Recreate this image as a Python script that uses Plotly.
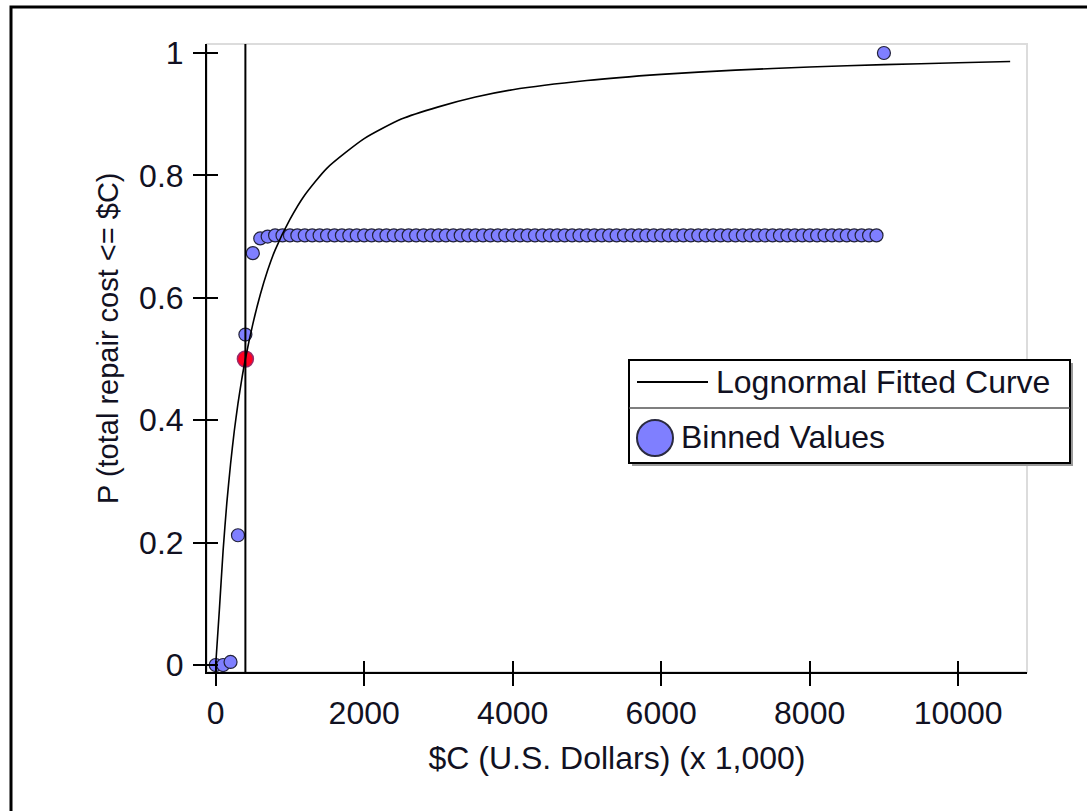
import plotly.graph_objects as go

# ---------------- data ----------------
cost_bins = [
    0, 100, 200, 300, 400, 500, 600, 700, 800, 900,
    1000, 1100, 1200, 1300, 1400, 1500, 1600, 1700, 1800, 1900,
    2000, 2100, 2200, 2300, 2400, 2500, 2600, 2700, 2800, 2900,
    3000, 3100, 3200, 3300, 3400, 3500, 3600, 3700, 3800, 3900,
    4000, 4100, 4200, 4300, 4400, 4500, 4600, 4700, 4800, 4900,
    5000, 5100, 5200, 5300, 5400, 5500, 5600, 5700, 5800, 5900,
    6000, 6100, 6200, 6300, 6400, 6500, 6600, 6700, 6800, 6900,
    7000, 7100, 7200, 7300, 7400, 7500, 7600, 7700, 7800, 7900,
    8000, 8100, 8200, 8300, 8400, 8500, 8600, 8700, 8800, 8900,
    9000,
]
binned_prob = [
    0.0, 0.0, 0.005, 0.212, 0.540, 0.673, 0.697, 0.700, 0.702, 0.702,
    0.702, 0.702, 0.702, 0.702, 0.702, 0.702, 0.702, 0.702, 0.702, 0.702,
    0.702, 0.702, 0.702, 0.702, 0.702, 0.702, 0.702, 0.702, 0.702, 0.702,
    0.702, 0.702, 0.702, 0.702, 0.702, 0.702, 0.702, 0.702, 0.702, 0.702,
    0.702, 0.702, 0.702, 0.702, 0.702, 0.702, 0.702, 0.702, 0.702, 0.702,
    0.702, 0.702, 0.702, 0.702, 0.702, 0.702, 0.702, 0.702, 0.702, 0.702,
    0.702, 0.702, 0.702, 0.702, 0.702, 0.702, 0.702, 0.702, 0.702, 0.702,
    0.702, 0.702, 0.702, 0.702, 0.702, 0.702, 0.702, 0.702, 0.702, 0.702,
    0.702, 0.702, 0.702, 0.702, 0.702, 0.702, 0.702, 0.702, 0.702, 0.702,
    1.0,
]

curve_cost = [0, 50, 100, 150, 200, 250, 300, 350, 400, 500, 600, 700, 800,
              1000, 1200, 1500, 2000, 2500, 3000, 3500, 4000, 5000, 6000,
              7000, 8000, 9000, 10000, 10700]
curve_prob = [0.0, 0.091, 0.187, 0.265, 0.328, 0.382, 0.427, 0.466, 0.500,
              0.557, 0.605, 0.645, 0.678, 0.728, 0.768, 0.812, 0.860, 0.892,
              0.912, 0.928, 0.940, 0.955, 0.965, 0.972, 0.977, 0.981, 0.984,
              0.986]

median_cost = [400]
median_prob = [0.5]

x_ticks = [0, 2000, 4000, 6000, 8000, 10000]
x_tick_labels = ["0", "2000", "4000", "6000", "8000", "10000"]
y_ticks = [0, 0.2, 0.4, 0.6, 0.8, 1]
y_tick_labels = ["0", "0.2", "0.4", "0.6", "0.8", "1"]

x_range = [-117, 10927]
y_range = [-0.0114, 1.0147]

FONT = "Arial, Liberation Sans, sans-serif"
TXT = "#111122"
BLUE = "#7f7fff"

fig = go.Figure()

fig.add_trace(go.Scatter(
    x=cost_bins, y=binned_prob, mode="markers", name="Binned Values",
    marker=dict(size=13, color=BLUE, line=dict(color="#22223a", width=1.2)),
    showlegend=False, hoverinfo="x+y"))

fig.add_trace(go.Scatter(
    x=median_cost, y=median_prob, mode="markers", name="Median",
    marker=dict(size=16, color="#ff0022", line=dict(color="#9a2a6a", width=1.5)),
    showlegend=False))

fig.add_trace(go.Scatter(
    x=curve_cost, y=curve_prob, mode="lines", name="Lognormal Fitted Curve",
    line=dict(color="#000000", width=1.6, shape="spline", smoothing=0.6),
    showlegend=False))

# invisible trace to host the overlay axes that give crossing ticks
fig.add_trace(go.Scatter(x=[0], y=[0], xaxis="x2", yaxis="y2", mode="markers",
                         marker=dict(opacity=0), showlegend=False,
                         hoverinfo="skip"))

axis_font = dict(family=FONT, size=32, color=TXT)

fig.update_layout(
    width=1087, height=811,
    margin=dict(l=207, r=60, t=44, b=139),
    paper_bgcolor="white", plot_bgcolor="white",
    font=dict(family=FONT, size=32, color=TXT),
    showlegend=False,
    xaxis=dict(range=x_range, tickmode="array", tickvals=x_ticks,
               ticktext=x_tick_labels, ticks="outside", ticklen=12,
               tickwidth=2, tickcolor="black", showline=True,
               linecolor="black", linewidth=2, showgrid=False,
               zeroline=False, tickfont=axis_font,
               title=dict(text="$C (U.S. Dollars) (x 1,000)", font=axis_font,
                          standoff=16)),
    yaxis=dict(range=y_range, tickmode="array", tickvals=y_ticks,
               ticktext=y_tick_labels, ticks="outside", ticklen=12,
               tickwidth=2, tickcolor="black", showline=True,
               linecolor="black", linewidth=2, showgrid=False,
               zeroline=False, tickfont=axis_font, ticklabelstandoff=3),
    xaxis2=dict(range=x_range, overlaying="x", anchor="y2", side="bottom",
                tickmode="array", tickvals=x_ticks, ticks="inside",
                ticklen=11, tickwidth=2, tickcolor="black",
                showticklabels=False, showline=False, showgrid=False,
                zeroline=False),
    yaxis2=dict(range=y_range, overlaying="y", anchor="x2", side="left",
                tickmode="array", tickvals=y_ticks, ticks="inside",
                ticklen=11, tickwidth=2, tickcolor="black",
                showticklabels=False, showline=False, showgrid=False,
                zeroline=False),
)

W, H = 820.0, 628.0  # plot area size in px


def px(p):
    return (p - 207) / W


def py(p):
    return (672 - p) / H


shapes = []
# light grey plot-area frame
shapes.append(dict(type="rect", xref="paper", yref="paper", x0=0, x1=1,
                   y0=0, y1=1, line=dict(color="#dcdcdc", width=2),
                   layer="below"))
# outer black frame
shapes.append(dict(type="rect", xref="paper", yref="paper",
                   x0=px(11), x1=px(1120), y0=py(840), y1=py(7),
                   line=dict(color="black", width=3), layer="above"))
# vertical median line
shapes.append(dict(type="line", xref="x", yref="paper", x0=median_cost[0],
                   x1=median_cost[0], y0=0, y1=1,
                   line=dict(color="black", width=2), layer="above"))

# custom legend box
shapes.append(dict(type="rect", xref="paper", yref="paper",
                   x0=px(632), x1=px(1073), y0=py(466), y1=py(363),
                   line=dict(width=0), fillcolor="#9a9a9a", layer="above"))
shapes.append(dict(type="rect", xref="paper", yref="paper",
                   x0=px(629), x1=px(1070), y0=py(463), y1=py(360),
                   line=dict(color="black", width=2), fillcolor="white",
                   layer="above"))
shapes.append(dict(type="line", xref="paper", yref="paper",
                   x0=px(629), x1=px(1070), y0=py(408), y1=py(408),
                   line=dict(color="#555555", width=1.5), layer="above"))
shapes.append(dict(type="line", xref="paper", yref="paper",
                   x0=px(637), x1=px(708), y0=py(382), y1=py(382),
                   line=dict(color="black", width=1.8), layer="above"))
shapes.append(dict(type="circle", xref="paper", yref="paper",
                   x0=px(637), x1=px(673), y0=py(456), y1=py(420),
                   line=dict(color="#2a2a40", width=2), fillcolor=BLUE,
                   layer="above"))
fig.update_layout(shapes=shapes)

# y-axis title (placed as rotated text to match the reference position)
fig.add_annotation(xref="paper", yref="paper", x=px(108), y=py(338),
                   xanchor="center", yanchor="middle", showarrow=False,
                   textangle=-90, text="P (total repair cost &lt;= $C)",
                   font=dict(family=FONT, size=29, color=TXT))

fig.add_annotation(xref="paper", yref="paper", x=px(714), y=py(382),
                   xanchor="left", yanchor="middle", showarrow=False,
                   text="Lognormal Fitted Curve",
                   font=dict(family=FONT, size=32, color=TXT))
fig.add_annotation(xref="paper", yref="paper", x=px(679), y=py(437),
                   xanchor="left", yanchor="middle", showarrow=False,
                   text="Binned Values",
                   font=dict(family=FONT, size=32, color=TXT))

fig.write_html("out.html")
